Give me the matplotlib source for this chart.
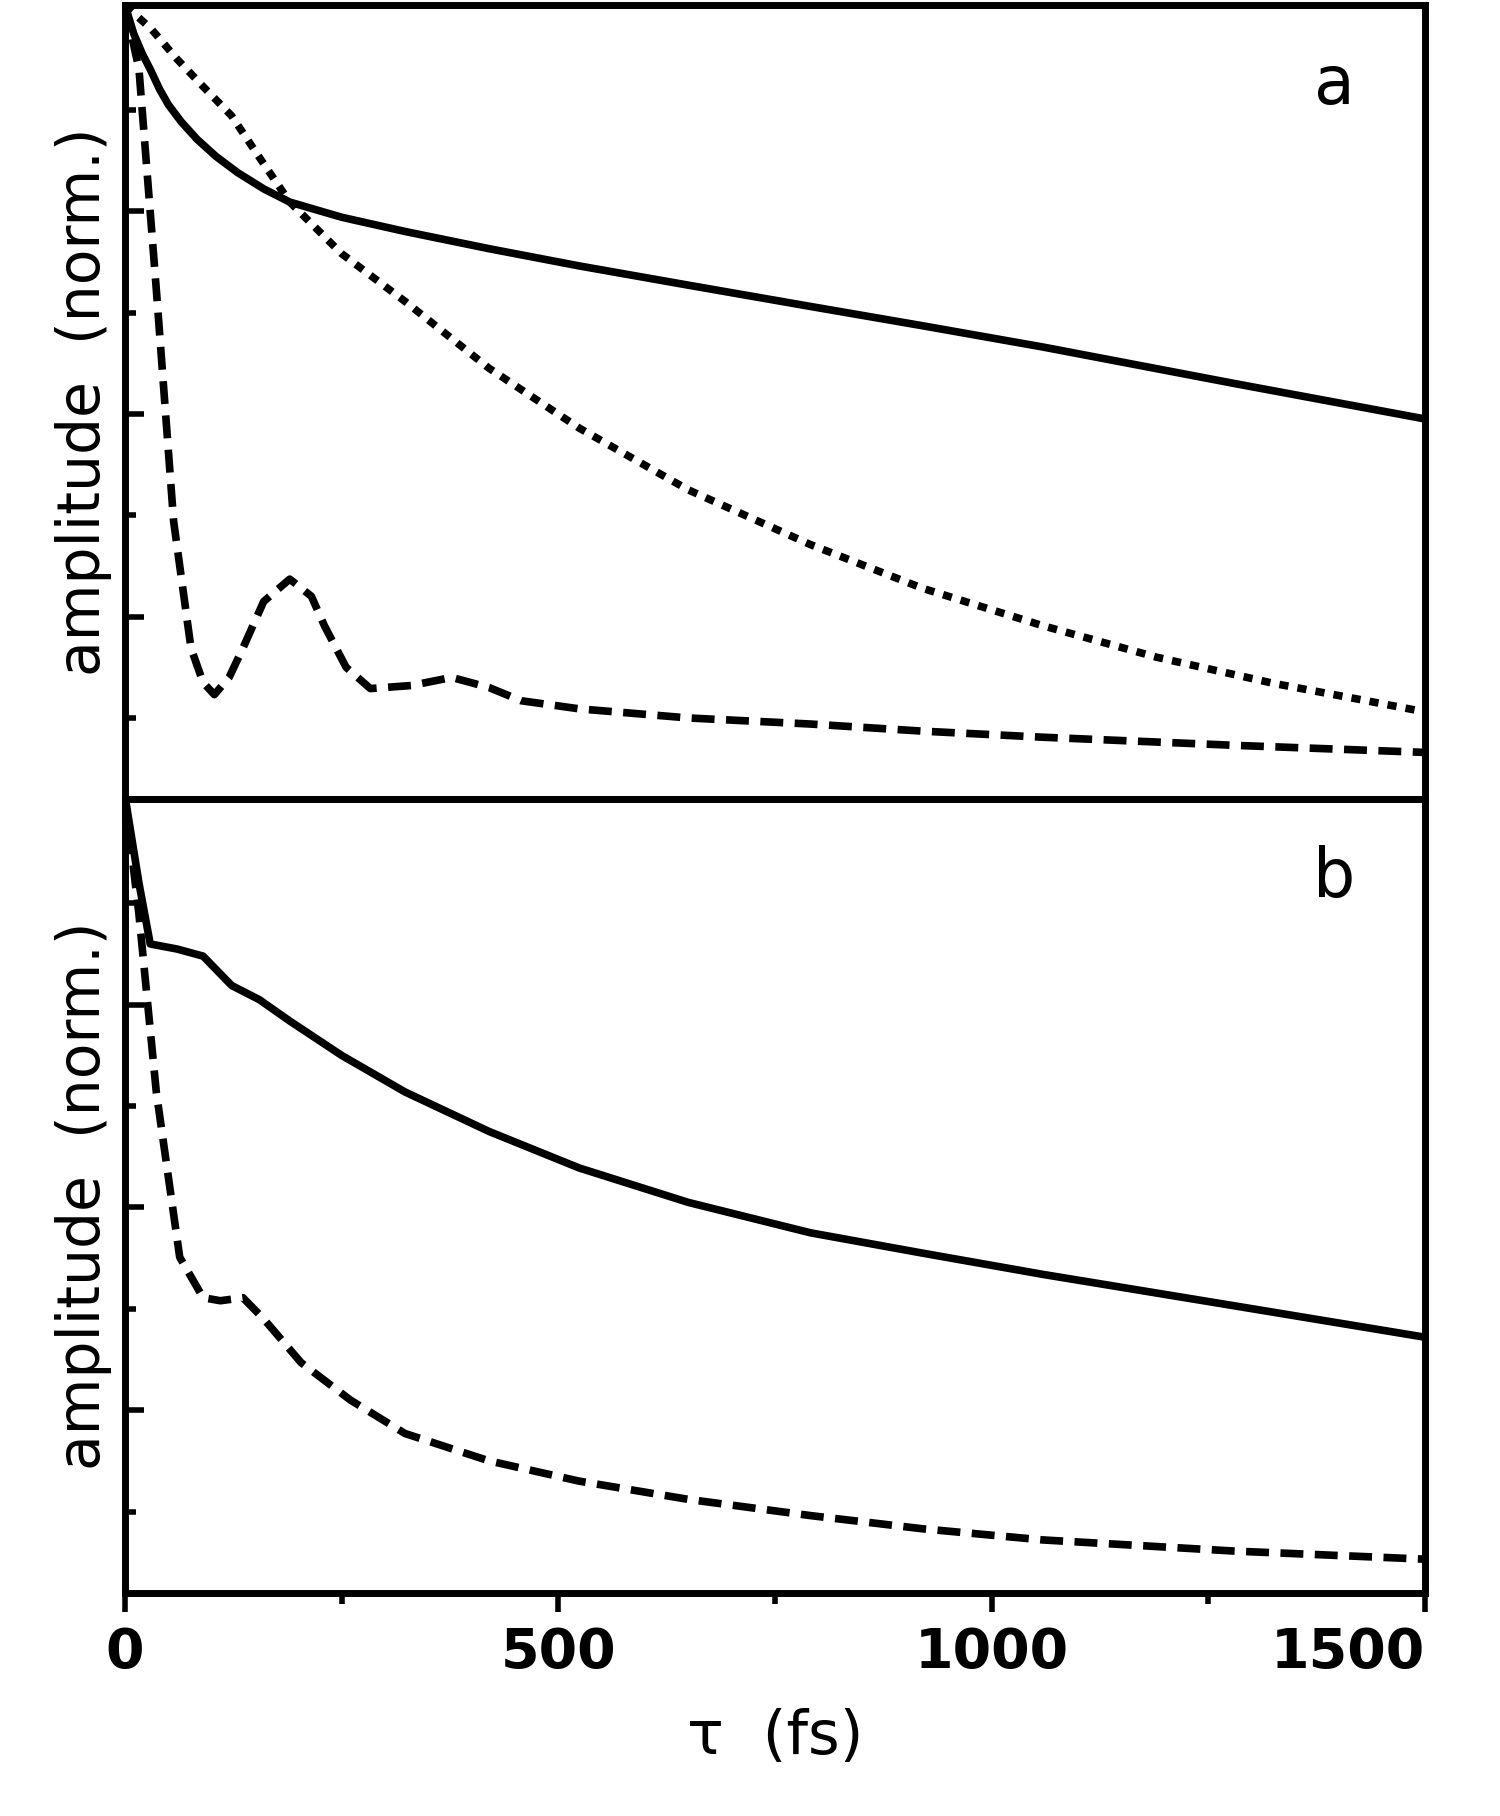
import matplotlib.pyplot as plt
from matplotlib.ticker import FixedLocator

# panel a (tau in fs, amplitude in tick units)
a_solid_t = [0, 10, 20, 29, 40, 50, 65, 83, 105, 130, 160, 190, 250, 323, 420, 524, 650, 791, 920, 1059, 1280, 1500]
a_solid_y = [7.83, 7.55, 7.35, 7.2, 7.0, 6.85, 6.68, 6.51, 6.34, 6.18, 6.02, 5.89, 5.74, 5.6, 5.43, 5.26, 5.07, 4.86, 4.67, 4.46, 4.1, 3.75]
a_dot_t = [0, 30, 60, 90, 123, 155, 190, 250, 323, 420, 524, 650, 791, 920, 1059, 1190, 1326, 1420, 1500]
a_dot_y = [7.83, 7.6, 7.3, 7.03, 6.74, 6.33, 5.89, 5.38, 4.91, 4.25, 3.66, 3.05, 2.51, 2.08, 1.71, 1.4, 1.14, 0.99, 0.86]
a_dash_t = [0, 16, 36, 56, 76, 90, 103, 120, 136, 160, 190, 215, 230, 255, 283, 330, 377, 420, 457, 524, 650, 791, 920, 1059, 1280, 1500]
a_dash_y = [7.83, 7.2, 5.03, 2.74, 1.49, 1.15, 1.03, 1.2, 1.49, 1.95, 2.17, 2.0, 1.71, 1.3, 1.09, 1.12, 1.2, 1.1, 0.97, 0.89, 0.8, 0.74, 0.67, 0.61, 0.53, 0.46]

# panel b
b_solid_t = [0, 16, 29, 60, 90, 123, 155, 190, 250, 323, 420, 524, 650, 791, 920, 1059, 1280, 1500]
b_solid_y = [7.85, 7.0, 6.4, 6.35, 6.28, 5.99, 5.85, 5.64, 5.3, 4.94, 4.55, 4.19, 3.85, 3.55, 3.35, 3.14, 2.83, 2.52]
b_dash_t = [0, 16, 36, 63, 90, 110, 136, 160, 203, 260, 323, 420, 524, 650, 791, 920, 1059, 1280, 1500]
b_dash_y = [7.85, 6.69, 4.94, 3.31, 2.91, 2.88, 2.91, 2.7, 2.27, 1.9, 1.57, 1.3, 1.1, 0.92, 0.76, 0.63, 0.52, 0.41, 0.33]

fig = plt.figure(figsize=(15, 18.16), dpi=100)
ax1 = fig.add_axes([0.0834, 0.56, 0.8666, 0.437])
ax2 = fig.add_axes([0.0834, 0.123, 0.8666, 0.437])

lw = 5.5
ax1.plot(a_solid_t, a_solid_y, color="black", lw=lw)
ax1.plot(a_dot_t, a_dot_y, color="black", lw=lw, ls=(0, (1.2, 1.2)))
ax1.plot(a_dash_t, a_dash_y, color="black", lw=lw, ls=(0, (3, 1.5)))
ax2.plot(b_solid_t, b_solid_y, color="black", lw=lw)
ax2.plot(b_dash_t, b_dash_y, color="black", lw=lw, ls=(0, (3, 1.5)))

for ax, lab in [(ax1, "a"), (ax2, "b")]:
    ax.set_xlim(0, 1500)
    ax.set_ylim(0, 7.83)
    for s in ax.spines.values():
        s.set_linewidth(5)
    ax.yaxis.set_major_locator(FixedLocator([1.8, 3.8, 5.8]))
    ax.yaxis.set_minor_locator(FixedLocator([0.8, 2.8, 4.8, 6.8]))
    ax.set_yticklabels([])
    ax.xaxis.set_major_locator(FixedLocator([0, 500, 1000, 1500]))
    ax.xaxis.set_minor_locator(FixedLocator([250, 750, 1250]))
    ax.tick_params(which="major", direction="in", length=14, width=4)
    ax.tick_params(which="minor", direction="in", length=8, width=4)
    ax.tick_params(axis="x", which="both", direction="out")
    ax.set_ylabel("amplitude  (norm.)", fontsize=42, labelpad=6)
    ax.text(0.93, 0.9, lab, transform=ax.transAxes, fontsize=48, ha="center", va="center")

ax1.tick_params(axis="x", labelbottom=False)
ax2.tick_params(axis="x", labelsize=40, pad=10)
for t in ax2.get_xticklabels():
    t.set_fontweight("bold")
ax2.get_xticklabels()[-1].set_horizontalalignment("right")
ax2.set_xlabel("τ  (fs)", fontsize=44, labelpad=20)

fig.savefig("out.png")
